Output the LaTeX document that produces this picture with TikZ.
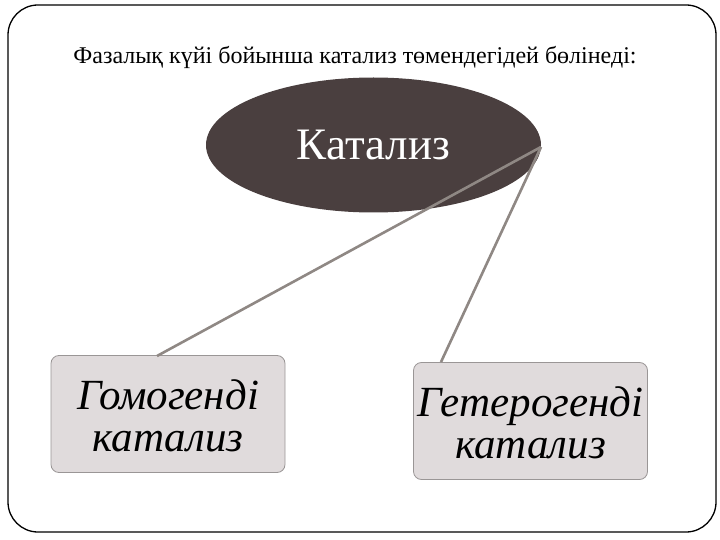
\documentclass[tikz,border=0pt]{standalone}
\usepackage{fontspec}
\setmainfont{LiberationSerif}[Extension=.ttf, UprightFont=*-Regular, ItalicFont=*-Italic, BoldFont=*-Bold, BoldItalicFont=*-BoldItalic]
\newfontfamily\bigserif{LiberationSerif-Regular.ttf}
\newfontfamily\bigserifit{LiberationSerif-Italic.ttf}
\usetikzlibrary{shapes.geometric}
\definecolor{ellfill}{HTML}{4A3F3F}
\definecolor{boxfill}{HTML}{E0DBDC}
\definecolor{boxedge}{HTML}{9A9696}
\definecolor{linkcol}{HTML}{8F8884}
\tikzset{
  frame/.style={draw=black, line width=1.3pt, rounded corners=30pt},
  catbox/.style={draw=boxedge, fill=boxfill, line width=0.8pt, rounded corners=8pt, minimum width=234pt, minimum height=117pt},
  boxtext/.style={font=\bigserifit\fontsize{43}{42}\selectfont, align=center, text=black},
  link/.style={draw=linkcol, line width=2.6pt},
}
\begin{document}
\begin{tikzpicture}[x=1pt,y=-1pt]
\useasboundingbox (0,0) rectangle (720,540);
\draw[frame] (8,5) rectangle (716,532);
\node (title) at (355,57) {\fontsize{24}{26}\selectfont Фазалық күйі бойынша катализ төмендегідей бөлінеді:};
\node[ellipse, fill=ellfill, minimum width=335pt, minimum height=135pt, inner sep=0pt] (cat) at (373.5,145) {};
\node[text=white, font=\bigserif\fontsize{45}{47}\selectfont] (catt) at (373.5,145) {Катализ};
\node[catbox] (homo) at (168,414) {};
\node[catbox] (hetero) at (530.5,421) {};
\coordinate (hub) at (541,147);
\coordinate (homotop) at (157,356);
\coordinate (heterotop) at (441,362);
\draw[link] (hub) -- (homotop);
\draw[link] (hub) -- (heterotop);
\node[boxtext] (homot) at (168,416) {Гомогенді\\катализ};
\node[boxtext] (heterot) at (530.5,423) {Гетерогенді\\катализ};
\end{tikzpicture}
\end{document}
